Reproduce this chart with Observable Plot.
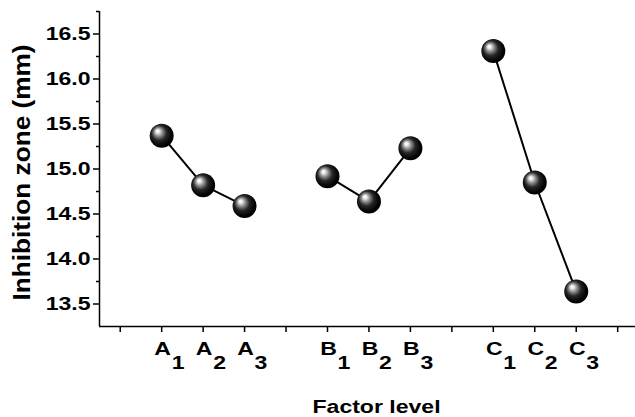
<!DOCTYPE html>
<html><head><meta charset="utf-8">
<script src="https://cdn.jsdelivr.net/npm/d3@7"></script>
<script src="https://cdn.jsdelivr.net/npm/@observablehq/plot@0.6"></script>
<style>body{margin:0;background:#fff} svg{display:block}</style>
</head><body><div id="chart"></div>
<script>
const factors = ["A", "B", "C"];
const levels = ["1", "2", "3"];
const valuesA = [15.37, 14.82, 14.59];
const valuesB = [14.92, 14.64, 15.23];
const valuesC = [16.31, 14.85, 13.64];
const yMajorTicks = [13.5, 14.0, 14.5, 15.0, 15.5, 16.0, 16.5];
const yMinorTicks = [13.75, 14.25, 14.75, 15.25, 15.75, 16.25, 16.75];
const yTitle = "Inhibition zone (mm)";
const xTitle = "Factor level";

const series = [valuesA, valuesB, valuesC];
const data = [];
factors.forEach((f, gi) => levels.forEach((l, li) =>
  data.push({factor: f, level: l, slot: gi * (levels.length + 1) + li + 2, value: series[gi][li]})));
const slots = d3.range(1, factors.length * (levels.length + 1) + 2);
const xDomain = [slots[0] - 0.5, slots[slots.length - 1] + 0.43];
const yDomain = [13.25, 16.75];
const font = {fontSize: 18, fontWeight: "bold", fill: "#000"};

const svg = Plot.plot({
  width: 635, height: 417,
  marginTop: 11, marginBottom: 91, marginLeft: 99, marginRight: 0,
  style: {fontFamily: "'Liberation Sans', Arial, sans-serif", background: "#fff", color: "#000"},
  x: {domain: xDomain, axis: null},
  y: {domain: yDomain, axis: null},
  marks: [
    Plot.axisY(yMajorTicks, {tickSize: 6, tickPadding: 3, strokeWidth: 1.5, tickFormat: d3.format(".1f"), label: null, ...font}),
    Plot.axisY(yMinorTicks, {tickSize: 3, strokeWidth: 1.5, tickFormat: () => "", label: null}),
    Plot.axisX(slots, {tickSize: 6, strokeWidth: 1.5, tickFormat: () => "", label: null}),
    Plot.ruleX([xDomain[0]], {stroke: "#000", strokeWidth: 1.5}),
    Plot.ruleY([yDomain[0]], {stroke: "#000", strokeWidth: 1.5}),
    Plot.line(data, {x: "slot", y: "value", z: "factor", stroke: "#000", strokeWidth: 2}),
    Plot.dot(data, {x: "slot", y: "value", r: 12, fill: "url(#ball)", stroke: "none"}),
    Plot.text(data, {x: "slot", text: "factor", frameAnchor: "bottom", lineAnchor: "bottom", dy: 28, dx: 1, ...font}),
    Plot.text(data, {x: "slot", text: "level", frameAnchor: "bottom", lineAnchor: "bottom", textAnchor: "start", dy: 42, dx: 10, ...font}),
    Plot.text([xTitle], {frameAnchor: "bottom", lineAnchor: "bottom", dy: 86, dx: 9, ...font}),
    Plot.text([yTitle], {frameAnchor: "bottom-left", textAnchor: "start", rotate: -90, dx: -70, dy: -26, ...font, fontSize: 24})
  ]
});

const ns = "http://www.w3.org/2000/svg";
const defs = document.createElementNS(ns, "defs");
defs.innerHTML = `<radialGradient id="ball" cx="0.45" cy="0.45" r="0.56" fx="0.32" fy="0.3">
  <stop offset="0" stop-color="#ffffff"/>
  <stop offset="0.12" stop-color="#eeeeee"/>
  <stop offset="0.32" stop-color="#8a8a8a"/>
  <stop offset="0.56" stop-color="#262626"/>
  <stop offset="0.85" stop-color="#050505"/>
  <stop offset="1" stop-color="#000000"/>
</radialGradient>`;
svg.insertBefore(defs, svg.firstChild);
document.getElementById("chart").appendChild(svg);

const stretch = 1.28;
svg.querySelectorAll("text").forEach(t => {
  const s = t.textContent.trim();
  if (!s) return;
  if (s === yTitle) {
    t.setAttribute("textLength", 256);
    t.setAttribute("lengthAdjust", "spacingAndGlyphs");
  } else {
    const w = t.getComputedTextLength();
    t.setAttribute("textLength", w * stretch);
    t.setAttribute("lengthAdjust", "spacingAndGlyphs");
  }
});
</script>
</body></html>
